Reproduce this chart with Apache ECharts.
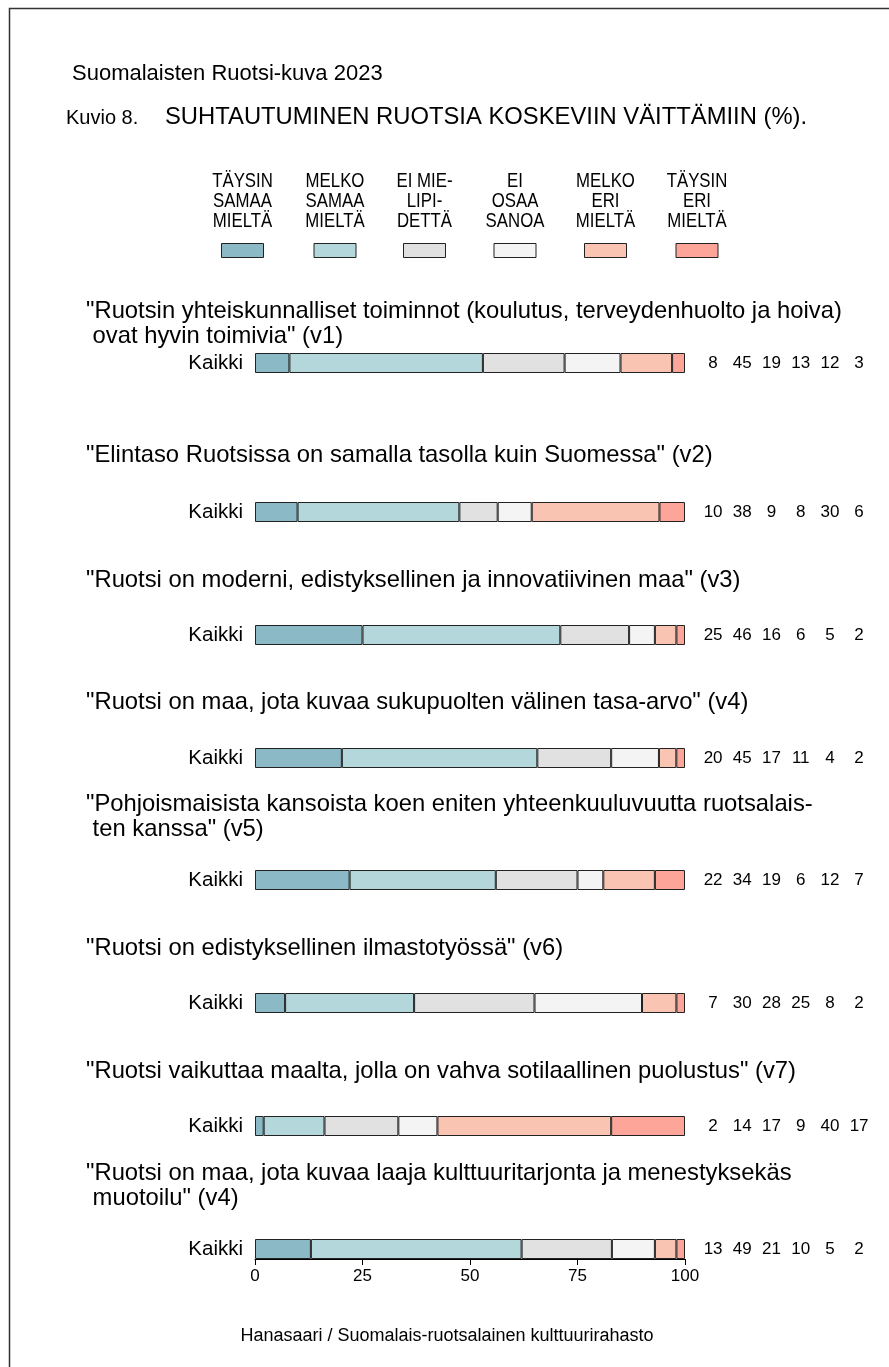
<!DOCTYPE html>
<html>
<head>
<meta charset="utf-8">
<script src="https://cdn.jsdelivr.net/npm/echarts@6/dist/echarts.min.js"></script>
<style>html,body{margin:0;padding:0;background:#fff;}#c{width:889px;height:1367px;}</style>
</head>
<body>
<div id="c"></div>
<script>
// ---- data ----
const categories = ['TÄYSIN\nSAMAA\nMIELTÄ', 'MELKO\nSAMAA\nMIELTÄ', 'EI MIE-\nLIPI-\nDETTÄ', 'EI\nOSAA\nSANOA', 'MELKO\nERI\nMIELTÄ', 'TÄYSIN\nERI\nMIELTÄ'];
const groupLabel = 'Kaikki';
const questions = [
  '"Ruotsin yhteiskunnalliset toiminnot (koulutus, terveydenhuolto ja hoiva)\n ovat hyvin toimivia" (v1)',
  '"Elintaso Ruotsissa on samalla tasolla kuin Suomessa" (v2)',
  '"Ruotsi on moderni, edistyksellinen ja innovatiivinen maa" (v3)',
  '"Ruotsi on maa, jota kuvaa sukupuolten välinen tasa-arvo" (v4)',
  '"Pohjoismaisista kansoista koen eniten yhteenkuuluvuutta ruotsalais-\n ten kanssa" (v5)',
  '"Ruotsi on edistyksellinen ilmastotyössä" (v6)',
  '"Ruotsi vaikuttaa maalta, jolla on vahva sotilaallinen puolustus" (v7)',
  '"Ruotsi on maa, jota kuvaa laaja kulttuuritarjonta ja menestyksekäs\n muotoilu" (v4)'
];
const v1 = [8, 45, 19, 13, 12, 3];
const v2 = [10, 38, 9, 8, 30, 6];
const v3 = [25, 46, 16, 6, 5, 2];
const v4 = [20, 45, 17, 11, 4, 2];
const v5 = [22, 34, 19, 6, 12, 7];
const v6 = [7, 30, 28, 25, 8, 2];
const v7 = [2, 14, 17, 9, 40, 17];
const v8 = [13, 49, 21, 10, 5, 2];
const values = [v1, v2, v3, v4, v5, v6, v7, v8];

// ---- style / layout ----
const colors = ['#8bbac6', '#b3d7da', '#e1e1e1', '#f4f4f4', '#f9c5b2', '#fda599'];
const barCenters = [363, 512, 635, 758, 880, 1003, 1126, 1249];
const qLineTop = [298.5, 442.5, 567.5, 689.5, 791.5, 935.5, 1058.5, 1160.5];
const legendCenters = [242.5, 335, 424.5, 515, 605.5, 697];
const font = 'Liberation Sans, Arial, sans-serif';
const barH = 20;

const chart = echarts.init(document.getElementById('c'), null, {renderer: 'canvas'});

const grids = [], xAxes = [], yAxes = [], series = [];
values.forEach((vals, i) => {
  const last = i === values.length - 1;
  grids.push({left: 255, right: 204, top: barCenters[i] - barH / 2, height: barH, containLabel: false});
  xAxes.push({
    type: 'value', gridIndex: i, min: 0, max: 100, interval: 25,
    show: last,
    axisLine: {show: last, lineStyle: {color: '#000', width: 1}},
    axisTick: {show: last, length: 6, lineStyle: {color: '#000'}},
    axisLabel: {show: last, fontSize: 17, color: '#000', fontFamily: font, margin: 9},
    splitLine: {show: false}
  });
  yAxes.push({
    type: 'category', gridIndex: i, data: [groupLabel],
    axisLine: {show: false}, axisTick: {show: false}, splitLine: {show: false},
    axisLabel: {fontSize: 20.5, color: '#000', fontFamily: font, margin: 12}
  });
  yAxes.push({
    type: 'category', gridIndex: i, position: 'right', data: [vals.join(' ')],
    axisLine: {show: false}, axisTick: {show: false}, splitLine: {show: false},
    axisLabel: {
      margin: 13.5, align: 'left', color: '#000', fontFamily: font, fontSize: 17,
      formatter: () => vals.map(v => '{c|' + v + '}').join(''),
      rich: {c: {width: 29.2, align: 'center', fontSize: 17, fontFamily: font, color: '#000'}}
    }
  });
  const total = vals.reduce((a, b) => a + b, 0);
  vals.forEach((v, j) => {
    series.push({
      type: 'bar', name: categories[j], stack: 's' + i,
      xAxisIndex: i, yAxisIndex: i * 2,
      barWidth: barH,
      data: [v * 100 / total],
      itemStyle: {color: colors[j], borderColor: '#222', borderWidth: 1},
      emphasis: {disabled: true}, silent: true, animation: false
    });
  });
});

const graphic = [];
// frame
graphic.push({type: 'rect', shape: {x: 9.5, y: 8.5, width: 2000, height: 3000}, style: {fill: 'none', stroke: '#333', lineWidth: 1.5}, silent: true});
// legend
categories.forEach((c, j) => {
  graphic.push({
    type: 'text', x: legendCenters[j], y: 201, scaleX: 0.8,
    style: {text: c, textAlign: 'center', textVerticalAlign: 'middle', font: '21px ' + font, fill: '#000', lineHeight: 20}
  });
  graphic.push({
    type: 'rect', shape: {x: legendCenters[j] - 21, y: 243.5, width: 42, height: 14},
    style: {fill: colors[j], stroke: '#222', lineWidth: 1}
  });
});
// question texts
questions.forEach((q, i) => {
  graphic.push({
    type: 'text', x: 86, y: qLineTop[i],
    style: {text: q, textAlign: 'left', textVerticalAlign: 'top', font: '23.8px ' + font, fill: '#000', lineHeight: 25}
  });
});
// footer
graphic.push({
  type: 'text', x: 447, y: 1336,
  style: {text: 'Hanasaari / Suomalais-ruotsalainen kulttuurirahasto', textAlign: 'center', textVerticalAlign: 'middle', font: '18px ' + font, fill: '#000'}
});
// titles
graphic.push({
  type: 'text', x: 72, y: 74,
  style: {text: 'Suomalaisten Ruotsi-kuva 2023', textVerticalAlign: 'middle', font: '22px ' + font, fill: '#000'}
});
graphic.push({
  type: 'text', x: 66, y: 118,
  style: {text: 'Kuvio 8.', textVerticalAlign: 'middle', font: '20px ' + font, fill: '#000'}
});
graphic.push({
  type: 'text', x: 165, y: 117,
  style: {text: 'SUHTAUTUMINEN RUOTSIA KOSKEVIIN VÄITTÄMIIN (%).', textVerticalAlign: 'middle', font: '23.8px ' + font, fill: '#000'}
});

chart.setOption({
  animation: false,
  backgroundColor: '#fff',
  grid: grids, xAxis: xAxes, yAxis: yAxes, series: series, graphic: graphic
});
</script>
</body>
</html>
